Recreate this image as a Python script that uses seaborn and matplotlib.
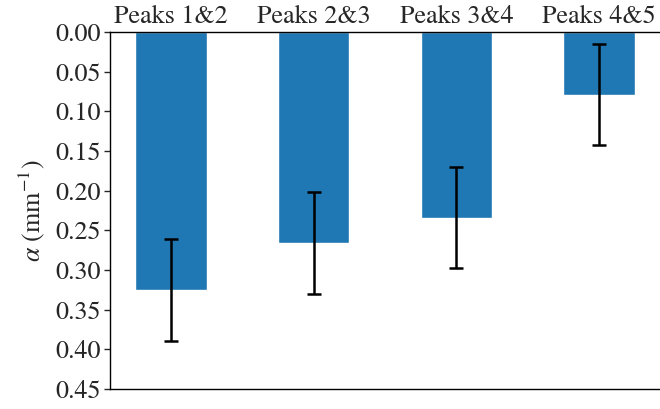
import matplotlib
matplotlib.use("Agg")
import matplotlib.pyplot as plt
import seaborn as sns
import pandas as pd

categories = ["Peaks 1&2", "Peaks 2&3", "Peaks 3&4", "Peaks 4&5"]
alpha_vals = [0.325, 0.266, 0.234, 0.079]
alpha_err = [0.064, 0.064, 0.064, 0.064]
yticks = [0.00, 0.05, 0.10, 0.15, 0.20, 0.25, 0.30, 0.35, 0.40, 0.45]

sns.set_style("ticks")
plt.rcParams["font.family"] = ["STIXGeneral", "Liberation Serif", "DejaVu Serif"]
plt.rcParams["mathtext.fontset"] = "stix"

df = pd.DataFrame({"pair": categories, "alpha": alpha_vals})

fig = plt.figure(figsize=(6.6, 4.09), dpi=100)
ax = fig.add_axes([0.1667, 0.0489, 0.8333, 0.8729])

sns.barplot(data=df, x="pair", y="alpha", color="#1f77b4", saturation=1,
            width=0.5, errorbar=None, ax=ax)
ax.errorbar(x=list(range(len(categories))), y=alpha_vals, yerr=alpha_err,
            fmt="none", ecolor="black", elinewidth=1.8, capsize=4.8,
            capthick=1.8)

ax.set_xlim(-0.427, 3.427)
ax.set_ylim(0.45, 0.0)
ax.set_yticks(yticks)
ax.set_yticklabels([f"{v:.2f}" for v in yticks])
ax.xaxis.tick_top()
ax.tick_params(axis="x", length=0, labelsize=18.7, pad=2, top=True, bottom=False)
ax.tick_params(axis="y", length=4, width=1, labelsize=18.7, pad=2.5)
ax.set_xlabel("")
ax.set_ylabel(r"$\alpha$ (mm$^{-1}$)", fontsize=18.7, labelpad=6)

for side in ["left", "top", "bottom"]:
    ax.spines[side].set_visible(True)
    ax.spines[side].set_linewidth(1.0)
    ax.spines[side].set_color("black")
ax.spines["right"].set_visible(False)

fig.savefig("out.png", dpi=100)
